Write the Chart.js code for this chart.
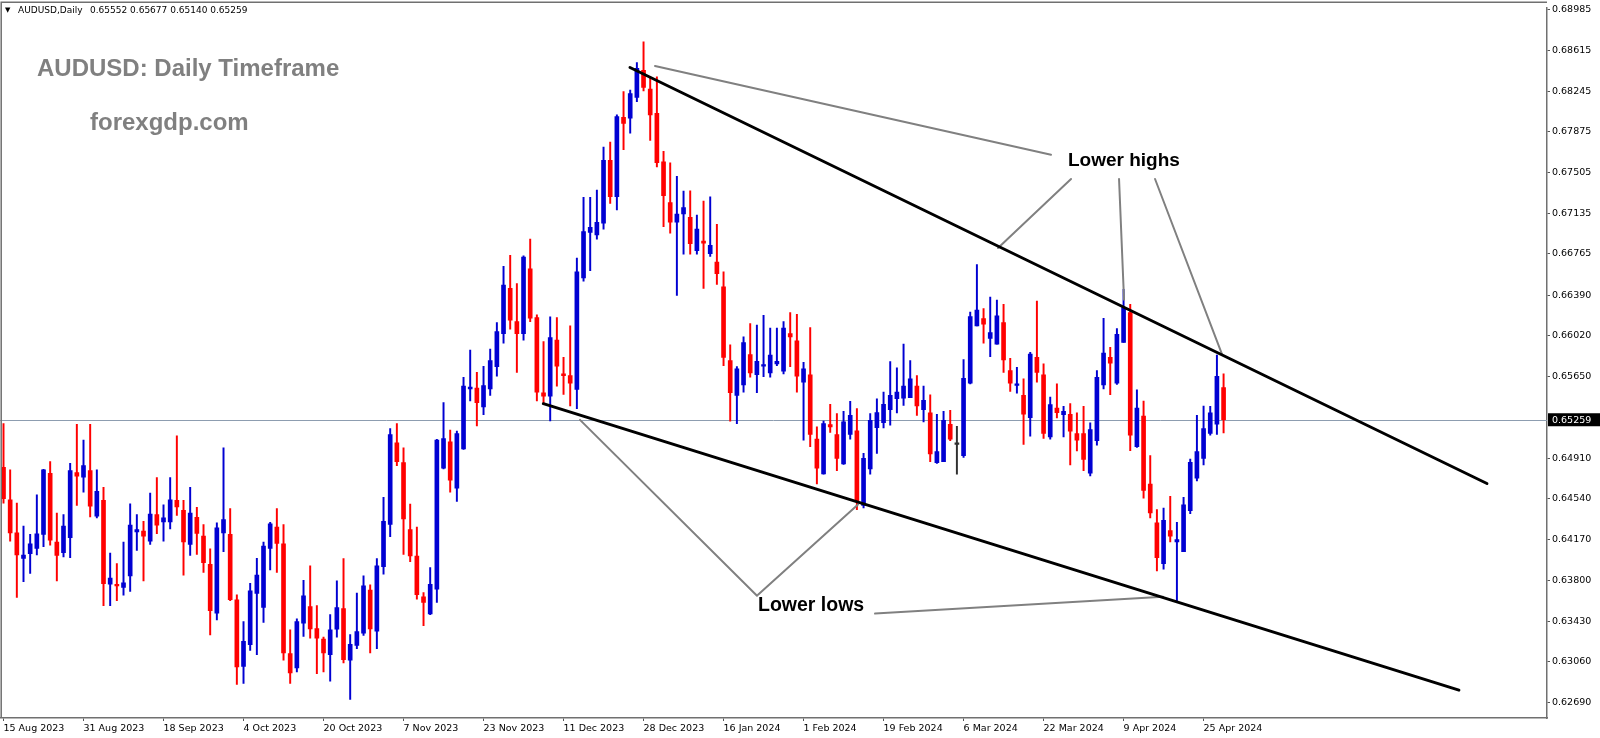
<!DOCTYPE html>
<html><head><meta charset="utf-8">
<script src="https://cdn.jsdelivr.net/npm/chart.js@4.4.1/dist/chart.umd.min.js"></script>
<style>html,body{margin:0;padding:0;background:#fff;overflow:hidden}#wrap{position:relative;width:1600px;height:738px}canvas{display:block}</style>
</head><body><div id="wrap"><canvas id="c" width="1600" height="738"></canvas></div>
<script>
// ---- Data (AUDUSD daily, bar 0 = 15 Aug 2023, bar 183 = 30 Apr 2024) ----
const opens = [0.64827,0.64532,0.64232,0.64000,0.64042,0.64090,0.64217,0.64773,0.64147,0.64051,0.64187,0.64779,0.64737,0.64797,0.64382,0.64526,0.63765,0.63762,0.63735,0.63841,0.64241,0.64247,0.64156,0.64397,0.64331,0.64331,0.64526,0.64436,0.64126,0.64373,0.64202,0.63946,0.63501,0.64232,0.64217,0.63624,0.63019,0.63215,0.63681,0.63555,0.64090,0.64283,0.64132,0.63134,0.63004,0.63410,0.63561,0.63362,0.63266,0.63125,0.63356,0.63543,0.63074,0.63209,0.63320,0.63711,0.63338,0.63925,0.64307,0.65050,0.64869,0.64262,0.64021,0.63651,0.63495,0.63720,0.64818,0.65059,0.64638,0.64993,0.65540,0.65546,0.65375,0.65540,0.65742,0.66042,0.66452,0.66151,0.66042,0.66629,0.66187,0.65504,0.65474,0.65982,0.65675,0.65660,0.65534,0.66548,0.66960,0.66939,0.67044,0.67616,0.67285,0.68007,0.67998,0.68187,0.68434,0.68262,0.68043,0.67601,0.67231,0.67053,0.67128,0.67098,0.66794,0.66882,0.66767,0.66692,0.66467,0.65796,0.65480,0.65576,0.65850,0.65669,0.65745,0.65685,0.65766,0.65700,0.66042,0.65976,0.65600,0.65666,0.65083,0.64767,0.65215,0.65125,0.64857,0.65125,0.65158,0.64481,0.64812,0.65188,0.65233,0.65351,0.65450,0.65456,0.65459,0.65564,0.65351,0.65321,0.64869,0.64878,0.65218,0.65035,0.64933,0.65591,0.66112,0.66178,0.65997,0.65946,0.66142,0.65706,0.65570,0.65480,0.65278,0.65826,0.65666,0.65104,0.65366,0.65305,0.65309,0.65134,0.65134,0.64773,0.65068,0.65576,0.65826,0.65591,0.65961,0.66232,0.65014,0.65293,0.64674,0.64322,0.63952,0.64253,0.64150,0.64060,0.64433,0.64728,0.64908,0.65134,0.65218,0.65552];
const highs = [0.65224,0.64803,0.64502,0.64292,0.64217,0.64578,0.64809,0.64878,0.64412,0.64397,0.64863,0.65218,0.65074,0.65218,0.64803,0.64644,0.64048,0.63952,0.64147,0.64496,0.64397,0.64337,0.64593,0.64734,0.64487,0.64734,0.65113,0.64526,0.64644,0.64463,0.64307,0.64087,0.64322,0.65005,0.64451,0.63669,0.63426,0.63774,0.64000,0.64147,0.64328,0.64451,0.64307,0.63350,0.63450,0.63801,0.63931,0.63570,0.63284,0.63489,0.63795,0.63997,0.63308,0.63684,0.63841,0.63759,0.63997,0.64554,0.65179,0.65224,0.65005,0.64493,0.64283,0.63690,0.63916,0.65080,0.65414,0.65164,0.65155,0.65645,0.65892,0.65690,0.65745,0.65901,0.66142,0.66653,0.66752,0.66497,0.66749,0.66900,0.66211,0.65970,0.66193,0.66187,0.65826,0.66112,0.66728,0.67279,0.67279,0.67345,0.67736,0.67781,0.68028,0.68241,0.68253,0.68503,0.68692,0.68368,0.68374,0.67697,0.67592,0.67471,0.67336,0.67339,0.67119,0.67246,0.67285,0.67035,0.66602,0.65940,0.65742,0.66012,0.66133,0.66118,0.66208,0.66091,0.66091,0.66151,0.66232,0.66217,0.65781,0.66097,0.65194,0.65248,0.65399,0.65315,0.65336,0.65426,0.65360,0.64954,0.65315,0.65450,0.65510,0.65787,0.65730,0.65946,0.65796,0.65660,0.65564,0.65486,0.65309,0.65336,0.65345,0.65200,0.65805,0.66238,0.66668,0.66268,0.66373,0.66346,0.66307,0.65817,0.65736,0.65630,0.65871,0.66337,0.65766,0.65465,0.65585,0.65381,0.65405,0.65321,0.65381,0.65230,0.65706,0.66181,0.65916,0.66088,0.66443,0.66307,0.65531,0.65429,0.64933,0.64442,0.64457,0.64563,0.64328,0.64554,0.64902,0.65299,0.65384,0.65381,0.65847,0.65677];
const lows = [0.64502,0.64156,0.63645,0.63789,0.63862,0.64030,0.64105,0.64120,0.63795,0.64012,0.64006,0.64481,0.64602,0.64376,0.64367,0.63570,0.63570,0.63615,0.63666,0.63699,0.64072,0.63795,0.64126,0.64223,0.64156,0.64268,0.64391,0.63847,0.64027,0.64036,0.63871,0.63305,0.63441,0.64060,0.63615,0.62854,0.62863,0.63164,0.63125,0.63419,0.63895,0.63871,0.63074,0.62863,0.62968,0.63290,0.63275,0.62953,0.62968,0.62884,0.63284,0.63050,0.62719,0.63179,0.63299,0.63140,0.63179,0.63856,0.64196,0.64842,0.64036,0.63970,0.63630,0.63389,0.63489,0.63600,0.64812,0.64602,0.64517,0.64990,0.65429,0.65203,0.65305,0.65480,0.65654,0.65955,0.66082,0.65690,0.65982,0.66151,0.65429,0.65405,0.65248,0.65564,0.65489,0.65384,0.65360,0.66518,0.66614,0.66900,0.66990,0.67225,0.67164,0.67712,0.67862,0.68148,0.68247,0.67796,0.67555,0.67014,0.66954,0.66388,0.66764,0.66764,0.66764,0.66452,0.66743,0.66488,0.65751,0.65245,0.65224,0.65510,0.65645,0.65504,0.65651,0.65645,0.65751,0.65675,0.65742,0.65510,0.65074,0.65014,0.64677,0.64764,0.65143,0.64797,0.64854,0.65083,0.64442,0.64457,0.64764,0.64954,0.65185,0.65209,0.65321,0.65390,0.65459,0.65299,0.65239,0.64878,0.64863,0.64878,0.65068,0.64764,0.64917,0.65585,0.66112,0.65955,0.65832,0.65946,0.65690,0.65516,0.65501,0.65035,0.65110,0.65600,0.65089,0.65083,0.65275,0.65104,0.64848,0.64975,0.64797,0.64749,0.65029,0.65540,0.65486,0.65579,0.65961,0.64978,0.65008,0.64547,0.64367,0.63886,0.63901,0.64150,0.63615,0.64060,0.64406,0.64704,0.64848,0.65119,0.65125,0.65140];
const closes = [0.64541,0.64232,0.64030,0.64030,0.64132,0.64223,0.64803,0.64165,0.64027,0.64292,0.64797,0.64746,0.64842,0.64475,0.64608,0.63771,0.63820,0.63750,0.63777,0.64301,0.64262,0.64202,0.64403,0.64301,0.64367,0.64532,0.64466,0.64150,0.64412,0.64226,0.63961,0.63525,0.64277,0.64352,0.63624,0.63013,0.63245,0.63705,0.63847,0.64111,0.64313,0.64135,0.63140,0.62959,0.63426,0.63660,0.63359,0.63275,0.63140,0.63350,0.63552,0.63080,0.63218,0.63335,0.63750,0.63359,0.63931,0.64337,0.65125,0.64878,0.64358,0.64021,0.63669,0.63600,0.63765,0.65074,0.65089,0.64710,0.65134,0.65564,0.65555,0.65414,0.65570,0.65796,0.66060,0.66482,0.66163,0.66042,0.66737,0.66181,0.65510,0.65474,0.66006,0.65745,0.65660,0.65591,0.66602,0.66969,0.67008,0.67053,0.67616,0.67285,0.68013,0.67952,0.68223,0.68452,0.68277,0.68028,0.67595,0.67294,0.67053,0.67128,0.67186,0.66858,0.66990,0.66864,0.66843,0.66587,0.65826,0.65504,0.65721,0.65961,0.65685,0.65790,0.65760,0.65847,0.65790,0.66091,0.66012,0.65654,0.65721,0.65125,0.64818,0.65224,0.65194,0.64908,0.65239,0.65299,0.64523,0.64908,0.65254,0.65324,0.65399,0.65480,0.65510,0.65564,0.65630,0.65384,0.65435,0.64948,0.64969,0.65254,0.65083,0.65035,0.65636,0.66196,0.66256,0.66127,0.66051,0.66202,0.65802,0.65591,0.65585,0.65309,0.65856,0.65690,0.65134,0.65396,0.65324,0.65336,0.65155,0.65074,0.64899,0.65170,0.65645,0.65865,0.65772,0.66036,0.66277,0.65119,0.65366,0.64617,0.64412,0.64006,0.64346,0.64202,0.64171,0.64487,0.64872,0.64969,0.65179,0.65321,0.65654,0.65259];

const tickIndex = [0,12,24,36,48,60,72,84,96,108,120,132,144,156,168,180];
const tickLabels = ['15 Aug 2023','31 Aug 2023','18 Sep 2023','4 Oct 2023','20 Oct 2023','7 Nov 2023','23 Nov 2023','11 Dec 2023','28 Dec 2023','16 Jan 2024','1 Feb 2024','19 Feb 2024','6 Mar 2024','22 Mar 2024','9 Apr 2024','25 Apr 2024'];
const yTickValues = [0.68985,0.68615,0.68245,0.67875,0.67505,0.67135,0.66765,0.66390,0.66020,0.65650,0.64910,0.64540,0.64170,0.63800,0.63430,0.63060,0.62690];
const currentPrice = 0.65259;
const headerSymbol = 'AUDUSD,Daily';
const headerOHLC = '0.65552 0.65677 0.65140 0.65259';

// trend lines (bar index, price)
const upperTrend = [[93.97,0.68459],[222.5,0.64680]];
const lowerTrend = [[80.97,0.65405],[218.3,0.62803]];
const pointerLines = [
  [[97.72,0.68473],[157.12,0.67667]],
  [[160.12,0.67446],[149.17,0.66819]],
  [[167.32,0.67446],[168.07,0.66349]],
  [[172.72,0.67446],[182.77,0.65853]],
  [[86.47,0.65258],[113.02,0.63660]],
  [[113.17,0.63669],[128.17,0.64490]],
  [[130.72,0.63498],[173.92,0.63651]]
];

// ---- build ----
const UP = '#0000d2', DOWN = '#ff0000', DOJI = '#303030';
const colors = opens.map((o,i)=> closes[i]>o ? UP : (closes[i]<o ? DOWN : DOJI));
const wickData = highs.map((h,i)=>({x:i, y:[lows[i], h]}));
const bodyData = opens.map((o,i)=>({x:i, y:[o, closes[i]]}));
const toPts = arr => arr.map(p=>({x:p[0], y:p[1]}));

const lineDs = (pts, color, w) => ({type:'line', data:toPts(pts), borderColor:color, borderWidth:w, pointRadius:0, fill:false, order:0, tension:0, borderCapStyle:'round'});

const FONT = 'DejaVu Sans';
const overlay = {
  id:'overlay',
  beforeDatasetsDraw(chart){
    const {ctx, chartArea:a, scales:{y}} = chart;
    const py = Math.round(y.getPixelForValue(currentPrice)) + 0.5;
    ctx.save();
    ctx.strokeStyle = '#8d9db0'; ctx.lineWidth = 1;
    ctx.beginPath(); ctx.moveTo(a.left, py); ctx.lineTo(a.right, py); ctx.stroke();
    ctx.restore();
  },
  afterDraw(chart){
    const {ctx, chartArea:a, scales:{y}} = chart;
    ctx.save();
    // frame left/top
    ctx.strokeStyle = '#707070'; ctx.lineWidth = 1.5;
    ctx.beginPath(); ctx.moveTo(1.2, a.bottom); ctx.lineTo(1.2, 2.2); ctx.lineTo(a.right, 2.2); ctx.stroke();
    // current price label
    const py = y.getPixelForValue(currentPrice);
    ctx.fillStyle = '#000'; ctx.fillRect(a.right+1, py-6.5, 52, 13);
    ctx.fillStyle = '#fff'; ctx.font = '9.5px "'+FONT+'"'; ctx.textBaseline = 'middle'; ctx.textAlign='left';
    ctx.fillText(currentPrice.toFixed(5), a.right+5, py+0.5);
    // header
    ctx.fillStyle = '#000';
    ctx.font = '7px "'+FONT+'"'; ctx.fillText('\u25BC', 5, 10.5);
    ctx.font = '9px "'+FONT+'"';
    ctx.fillText(headerSymbol, 18, 10.5);
    ctx.fillText(headerOHLC, 90, 10.5);
    // titles
    ctx.fillStyle = '#808080';
    ctx.font = 'bold 24px "Liberation Sans"';
    ctx.fillText('AUDUSD: Daily Timeframe', 37, 69);
    ctx.fillText('forexgdp.com', 90, 123.5);
    // annotations
    ctx.fillStyle = '#000';
    ctx.font = 'bold 19px "Liberation Sans"';
    ctx.fillText('Lower highs', 1068, 161);
    ctx.font = 'bold 19.5px "Liberation Sans"';
    ctx.fillText('Lower lows', 758, 606);
    ctx.restore();
  }
};

const xMin = -0.525, xMax = 231.51;
const yMin = 0.625496, yMax = 0.690021;

new Chart(document.getElementById('c'), {
  type:'bar',
  data:{ datasets:[
    {type:'bar', data:wickData, backgroundColor:colors, barThickness:1.3, grouped:false, order:2},
    {type:'bar', data:bodyData, backgroundColor:colors, barThickness:4, grouped:false, minBarLength:1.5, order:1},
    lineDs(upperTrend, '#000', 3),
    lineDs(lowerTrend, '#000', 3),
    ...pointerLines.map(p=>lineDs(p, '#808080', 2))
  ]},
  options:{
    responsive:false, animation:false, devicePixelRatio:1,
    layout:{padding:{left:0, top:3, right:0, bottom:0}},
    plugins:{legend:{display:false}, tooltip:{enabled:false}},
    scales:{
      x:{type:'linear', min:xMin, max:xMax, offset:false, position:'bottom',
        afterBuildTicks:s=>{ s.ticks = tickIndex.map(v=>({value:v})); },
        afterFit:s=>{ s.height = 20; },
        ticks:{autoSkip:false, maxRotation:0, align:'start', padding:2, color:'#000', font:{family:FONT, size:9.5},
          callback:(v,i)=>tickLabels[i]},
        grid:{drawOnChartArea:false, drawTicks:true, tickLength:3, color:'#555', offset:false},
        border:{display:true, color:'#707070', width:1.5}
      },
      y:{type:'linear', position:'right', min:yMin, max:yMax, beginAtZero:false,
        afterBuildTicks:s=>{ s.ticks = yTickValues.map(v=>({value:v})); },
        afterFit:s=>{ s.width = 53; },
        ticks:{autoSkip:false, padding:2, color:'#000', font:{family:FONT, size:9.5},
          callback:v=>Number(v).toFixed(5)},
        grid:{drawOnChartArea:false, drawTicks:true, tickLength:3, color:'#555'},
        border:{display:true, color:'#707070', width:1.5}
      }
    }
  },
  plugins:[overlay]
});
</script></body></html>
